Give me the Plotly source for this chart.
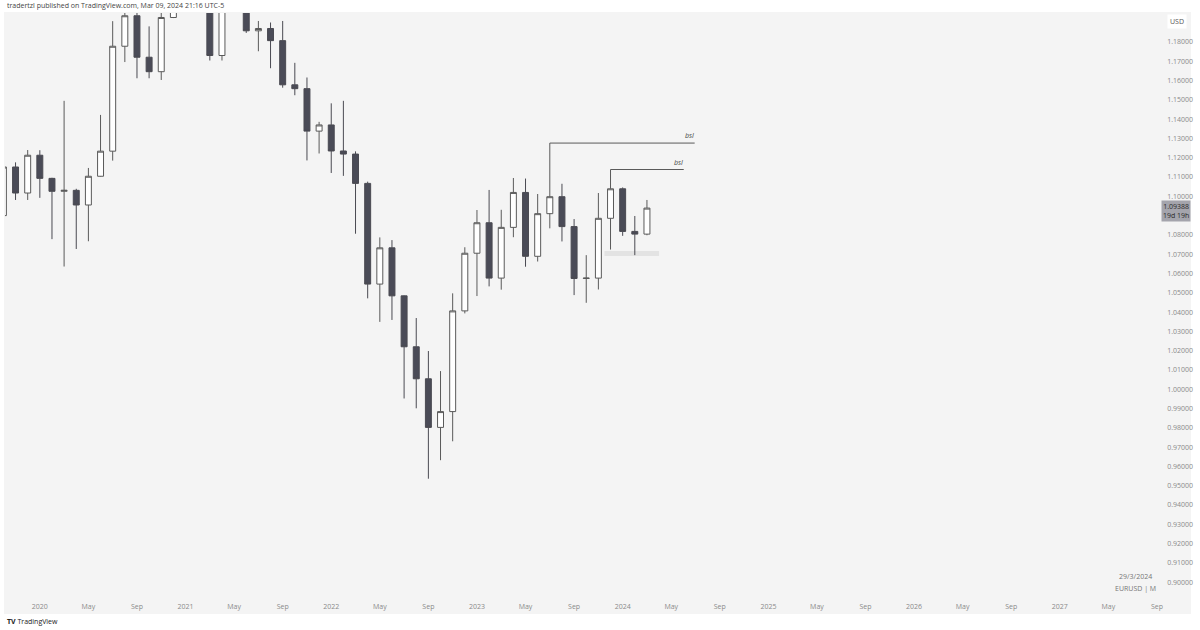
import plotly.graph_objects as go

# ---- data (monthly EURUSD, Oct 2019 .. Mar 2024) ----
months = ["2019-10", "2019-11", "2019-12",
          "2020-01", "2020-02", "2020-03", "2020-04", "2020-05", "2020-06",
          "2020-07", "2020-08", "2020-09", "2020-10", "2020-11", "2020-12",
          "2021-01", "2021-02", "2021-03", "2021-04", "2021-05", "2021-06",
          "2021-07", "2021-08", "2021-09", "2021-10", "2021-11", "2021-12",
          "2022-01", "2022-02", "2022-03", "2022-04", "2022-05", "2022-06",
          "2022-07", "2022-08", "2022-09", "2022-10", "2022-11", "2022-12",
          "2023-01", "2023-02", "2023-03", "2023-04", "2023-05", "2023-06",
          "2023-07", "2023-08", "2023-09", "2023-10", "2023-11", "2023-12",
          "2024-01", "2024-02", "2024-03"]
opens = [1.0900, 1.1152, 1.1017,
         1.1213, 1.1093, 1.1026, 1.1031, 1.0955, 1.1104,
         1.1234, 1.1778, 1.1936, 1.1721, 1.1646, 1.1927,
         1.2216, 1.2136, 1.2075, 1.1730, 1.2020, 1.2227,
         1.1858, 1.1870, 1.1807, 1.1578, 1.1558, 1.1338,
         1.1370, 1.1235, 1.1219, 1.1067, 1.0545, 1.0733,
         1.0484, 1.0220, 1.0054, 0.9802, 0.9884, 1.0406,
         1.0705, 1.0863, 1.0576, 1.0839, 1.1020, 1.0689,
         1.0910, 1.0998, 1.0843, 1.0574, 1.0576, 1.0886,
         1.1039, 1.0818, 1.0804]
highs = [1.1179, 1.1176, 1.1240,
         1.1239, 1.1096, 1.1495, 1.1039, 1.1147, 1.1422,
         1.1908, 1.1966, 1.2011, 1.1881, 1.2004, 1.2310,
         1.2349, 1.2243, 1.2114, 1.2150, 1.2266, 1.2254,
         1.1909, 1.1901, 1.1909, 1.1692, 1.1616, 1.1386,
         1.1482, 1.1495, 1.1233, 1.1076, 1.0787, 1.0773,
         1.0486, 1.0369, 1.0198, 1.0094, 1.0497, 1.0736,
         1.0929, 1.1033, 1.0930, 1.1095, 1.1092, 1.1012,
         1.1276, 1.1065, 1.0882, 1.0695, 1.1017, 1.1139,
         1.1046, 1.0898, 1.0981]
lows = [1.0879, 1.0981, 1.0981,
        1.0992, 1.0778, 1.0636, 1.0727, 1.0767, 1.1102,
        1.1185, 1.1696, 1.1612, 1.1612, 1.1603, 1.1924,
        1.2054, 1.1952, 1.1704, 1.1704, 1.1986, 1.1847,
        1.1752, 1.1664, 1.1563, 1.1524, 1.1186, 1.1222,
        1.1121, 1.1106, 1.0806, 1.0471, 1.0349, 1.0359,
        0.9952, 0.9901, 0.9536, 0.9632, 0.9730, 1.0393,
        1.0483, 1.0533, 1.0516, 1.0788, 1.0635, 1.0662,
        1.0834, 1.0766, 1.0488, 1.0448, 1.0517, 1.0724,
        1.0795, 1.0695, 1.0798]
closes = [1.1152, 1.1017, 1.1213,
          1.1093, 1.1026, 1.1031, 1.0955, 1.1104, 1.1234,
          1.1778, 1.1936, 1.1721, 1.1646, 1.1927, 1.2216,
          1.2136, 1.2075, 1.1730, 1.2020, 1.2227, 1.1858,
          1.1870, 1.1807, 1.1578, 1.1558, 1.1338, 1.1370,
          1.1235, 1.1219, 1.1067, 1.0545, 1.0733, 1.0484,
          1.0220, 1.0054, 0.9802, 0.9884, 1.0406, 1.0705,
          1.0863, 1.0576, 1.0839, 1.1020, 1.0689, 1.0910,
          1.0998, 1.0843, 1.0574, 1.0576, 1.0886, 1.1039,
          1.0818, 1.0804, 1.0939]
last_price = 1.09388

# time axis labels (Jan = year, May, Sep) from 2020 to Sep 2027
tick_years = [2020, 2021, 2022, 2023, 2024, 2025, 2026, 2027]
tick_months = [1, 5, 9]
month_names = {1: None, 5: "May", 9: "Sep"}

# price axis labels
price_ticks = [round(0.90 + 0.01 * i, 2) for i in range(29)]

# annotation levels: buy-side liquidity at Jul 2023 and Dec 2023 highs
bsl_months = ["2023-07", "2023-12"]
bsl_ends = [56.93, 56.03]
band_low, band_high = 1.0691, 1.0717
band_from, band_to = 49.5, 54.0


def month_index(y, m):
    return (y - 2019) * 12 + (m - 10)


x = [month_index(int(s[:4]), int(s[5:])) for s in months]

W, H = 1200, 630
PL, PR, PT, PB = 5, 1163, 13, 597
BG = "#f4f4f4"
AXC = "#8a8a8a"
FONT = "Open Sans"

fig = go.Figure()

fig.add_trace(go.Candlestick(
    x=x, open=opens, high=highs, low=lows, close=closes,
    increasing=dict(fillcolor="#ffffff", line=dict(color="#5a5a5a", width=1)),
    decreasing=dict(fillcolor="#4a4b57", line=dict(color="#4a4a52", width=1)),
    whiskerwidth=0, showlegend=False, hoverinfo="skip",
))

# bsl lines
for bm, be in zip(bsl_months, bsl_ends):
    i = months.index(bm)
    lvl = highs[i]
    fig.add_trace(go.Scatter(x=[x[i], be], y=[lvl, lvl], mode="lines",
                             line=dict(color="#5a5a5a", width=1),
                             showlegend=False, hoverinfo="skip"))
    fig.add_annotation(x=be - 0.42, y=lvl, xref="x", yref="y", text="<i>bsl</i>",
                       showarrow=False, xanchor="center", yanchor="bottom", yshift=1,
                       font=dict(size=7, color="#444", family=FONT))

# band
fig.add_shape(type="rect", xref="x", yref="y", x0=band_from, x1=band_to,
              y0=band_low, y1=band_high, fillcolor="#e3e3e3",
              line=dict(width=0), layer="below")

# last price line
fig.add_shape(type="line", xref="paper", yref="y", x0=PL / W, x1=PR / W,
              y0=last_price, y1=last_price, line=dict(color="#dcdcdc", width=1),
              layer="below")

# gray pane background (pane + axes)
fig.add_shape(type="rect", xref="paper", yref="paper", x0=4 / W, x1=1196 / W,
              y0=1 - 614 / H, y1=1 - 12 / H, fillcolor=BG, line=dict(width=0),
              layer="below")

tickvals, ticktext = [], []
for yy in tick_years:
    for mm in tick_months:
        tickvals.append(month_index(yy, mm))
        ticktext.append(str(yy) if mm == 1 else month_names[mm])

fig.update_layout(
    width=W, height=H, autosize=False,
    margin=dict(l=0, r=0, t=0, b=0),
    paper_bgcolor="#ffffff", plot_bgcolor=BG,
    font=dict(family=FONT, color=AXC, size=7),
    xaxis=dict(domain=[PL / W, PR / W], range=[0.13, 95.1],
               tickvals=tickvals, ticktext=ticktext, showgrid=False,
               zeroline=False, showline=False, ticks="", rangeslider=dict(visible=False),
               tickfont=dict(size=7, color=AXC), ticklabelstandoff=4, fixedrange=True),
    yaxis=dict(domain=[1 - PB / H, 1 - PT / H], range=[0.89228, 1.19503],
               side="right", tickvals=[p for p in price_ticks if abs(p - 1.09) > 1e-9],
               tickformat=".5f", showgrid=False, zeroline=False, showline=False,
               ticks="", tickfont=dict(size=7, color=AXC), ticklabelstandoff=8),
)

# header
fig.add_annotation(x=5 / W, y=1 - 6 / H, xref="paper", yref="paper",
                   text="tradertzl published on TradingView.com, Mar 09, 2024 21:16 UTC-5",
                   showarrow=False, xanchor="left", yanchor="middle",
                   font=dict(size=7, color="#444", family=FONT))
# USD box
fig.add_annotation(x=1182 / W, y=1 - 22 / H, xref="paper", yref="paper", text="USD",
                   showarrow=False, xanchor="center", yanchor="middle",
                   bgcolor="#ffffff", borderpad=2,
                   font=dict(size=7, color="#555", family=FONT))
# last price label
fig.add_annotation(x=1181 / W, y=last_price, xref="paper", yref="y",
                   text=f"{last_price:.5f}<br>19d 19h",
                   showarrow=False, xanchor="center", yanchor="middle", yshift=-3,
                   bgcolor="#a4a4ac", borderpad=1, align="center",
                   font=dict(size=7, color="#2a2a2a", family=FONT))
# symbol / date
fig.add_annotation(x=1140 / W, y=1 - 576 / H, xref="paper", yref="paper",
                   text="29/3/2024", showarrow=False, xanchor="center", yanchor="middle",
                   font=dict(size=7, color="#777", family=FONT))
fig.add_annotation(x=1140 / W, y=1 - 588 / H, xref="paper", yref="paper",
                   text="EURUSD | M", showarrow=False, xanchor="center", yanchor="middle",
                   font=dict(size=7, color="#777", family=FONT))
# TradingView footer
fig.add_annotation(x=5 / W, y=1 - 621 / H, xref="paper", yref="paper",
                   text="<b>TV</b> TradingView", showarrow=False,
                   xanchor="left", yanchor="middle",
                   font=dict(size=7, color="#222", family=FONT))

fig.write_html("out.html",
               config={"displayModeBar": False},
               post_script="document.body.style.margin='0';document.body.style.padding='0';")
